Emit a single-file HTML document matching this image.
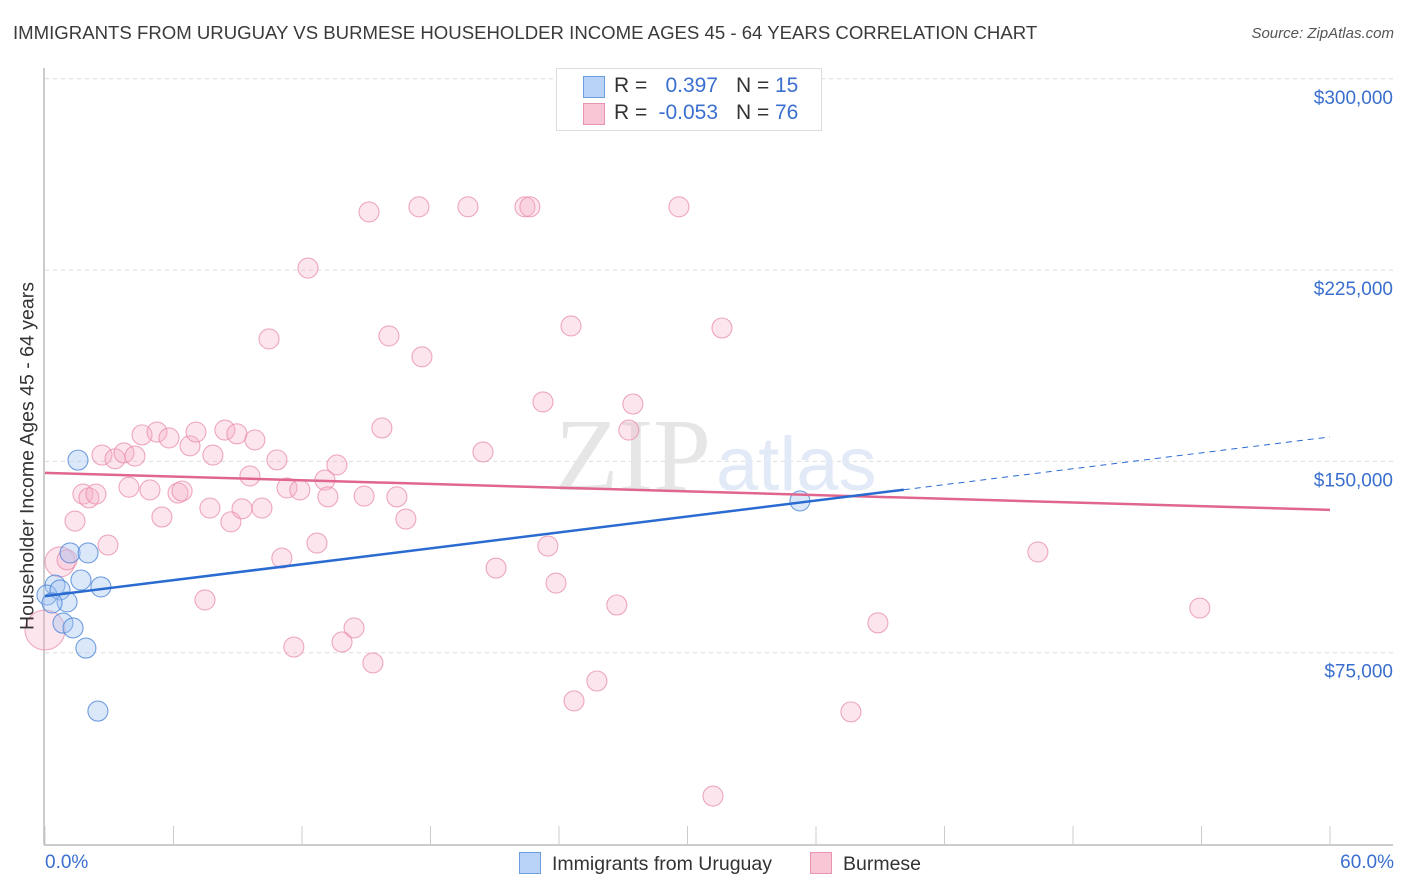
<!DOCTYPE html>
<html><head><meta charset="utf-8">
<style>
body{margin:0;background:#fff;font-family:"Liberation Sans",sans-serif;}
#wrap{position:relative;width:1406px;height:892px;overflow:hidden;}
.t{position:absolute;white-space:nowrap;}
</style></head>
<body>
<div id="wrap">
<div class="t" style="left:13px;top:22px;font-size:18.6px;color:#3a3a3a;">IMMIGRANTS FROM URUGUAY VS BURMESE HOUSEHOLDER INCOME AGES 45 - 64 YEARS CORRELATION CHART</div>
<div class="t" style="right:12px;top:25px;font-size:15px;color:#555;font-style:italic;">Source: ZipAtlas.com</div>
<svg id="chart" width="1406" height="892" style="position:absolute;left:0;top:0;"></svg>
</div>
<script>
const xTicks=[0,6,12,18,24,30,36,42,48,54,60];
const yTicks=[75,150,225,300];
const yTickLabels=["$75,000","$150,000","$225,000","$300,000"];
const blueX=[1.54,1.17,2.01,0.47,1.68,2.61,0.09,0.70,1.03,0.33,0.84,1.31,1.91,2.47,35.25];
const blueY=[150.5,114.1,114.1,101.5,103.5,100.8,97.6,99.6,94.9,94.5,86.6,84.7,76.8,52.1,134.5];
const pinkX=[0.0,0.70,1.03,1.40,2.94,1.77,2.05,2.38,2.66,3.27,3.69,4.20,3.92,4.90,4.53,5.23,5.79,5.46,6.21,6.40,6.77,7.05,7.84,7.70,7.47,8.40,8.96,9.80,8.68,9.20,10.13,9.57,10.83,10.46,11.30,11.90,11.06,11.62,12.28,12.70,13.07,13.21,13.63,13.87,14.43,14.90,15.13,15.31,15.73,16.06,16.43,16.85,17.46,17.60,19.75,20.45,21.06,22.41,22.64,23.25,23.48,23.86,24.56,24.70,25.77,26.70,27.26,27.45,29.60,31.19,31.61,37.63,38.89,46.36,53.92];
const pinkY=[83.9,110.6,111.4,126.6,117.2,137.2,135.7,137.2,152.5,151.0,153.3,152.1,139.9,138.8,160.4,161.5,159.2,128.2,137.6,138.4,156.1,161.5,152.5,131.7,95.7,162.3,160.8,158.4,126.3,131.4,131.7,144.3,150.6,198.0,139.6,138.8,112.1,77.2,225.8,118.0,142.7,136.1,148.6,79.2,84.7,136.4,247.8,71.0,163.1,199.2,136.1,127.4,249.8,191.0,249.8,153.7,108.2,249.8,249.8,173.3,116.8,102.3,203.1,56.1,63.9,93.7,162.3,172.5,249.8,18.8,202.3,51.8,86.7,114.5,92.5];
const pinkR=[20,15,10];
const blueTrend=[97.2,159.6];
const blueSolidEnd=40.1;
const pinkTrend=[145.5,131.0];
const NS="http://www.w3.org/2000/svg";
const svg=document.getElementById('chart');
const X=v=>45+v*(1330-45)/60;
const Y=v=>844-v*191.3/75;
function mk(tag,attrs){const e=document.createElementNS(NS,tag);for(const k in attrs)e.setAttribute(k,attrs[k]);svg.appendChild(e);return e;}
yTicks.forEach((t,i)=>{
 const g=mk('line',{x1:45,x2:1393,y1:Y(t),y2:Y(t),stroke:'#dcdcdc','stroke-dasharray':'4,4'});
 
 
 const tx=mk('text',{x:1393,y:Y(t)+25,'text-anchor':'end','font-size':19,fill:'#3a6fcf','font-family':'Liberation Sans,sans-serif'});
 tx.textContent=yTickLabels[i];
 
 
});
const w1=mk('text',{x:555,y:490,'font-size':104,fill:'#e6e6e6','font-family':'Liberation Serif,serif'});w1.textContent='ZIP';


const w2=mk('text',{x:716,y:490,'font-size':76,fill:'#e2eaf7','font-family':'Liberation Sans,sans-serif'});w2.textContent='atlas';


const ya=mk('line',{x1:44,x2:44,y1:68,y2:845,stroke:'#bbb','stroke-width':1.5});


const xa=mk('line',{x1:44,x2:1393,y1:845,y2:845,stroke:'#bbb','stroke-width':1.5});


xTicks.forEach(t=>{const l=mk('line',{x1:X(t),x2:X(t),y1:826,y2:845,stroke:'#ccc'});
 
 });
pinkX.forEach((v,i)=>{const c=mk('circle',{cx:X(v),cy:Y(pinkY[i]),r:pinkR[i]||10,fill:'rgba(246,175,200,0.32)',stroke:'rgba(232,140,172,0.75)','stroke-width':1.1});
 
 });
blueX.forEach((v,i)=>{const c=mk('circle',{cx:X(v),cy:Y(blueY[i]),r:10,fill:'rgba(165,198,242,0.4)',stroke:'rgba(80,135,215,0.8)','stroke-width':1.1});
 
 });
const bAt=x=>blueTrend[0]+(blueTrend[1]-blueTrend[0])*x/60;
const pl=mk('line',{x1:X(0),y1:Y(pinkTrend[0]),x2:X(60),y2:Y(pinkTrend[1]),stroke:'#e0668f','stroke-width':2.5});


const bl=mk('line',{x1:X(0),y1:Y(bAt(0)),x2:X(blueSolidEnd),y2:Y(bAt(blueSolidEnd)),stroke:'#2a6bd1','stroke-width':2.5});


const bd=mk('line',{x1:X(blueSolidEnd),y1:Y(bAt(blueSolidEnd)),x2:X(60),y2:Y(bAt(60)),stroke:'#2a6bd1','stroke-width':1,'stroke-dasharray':'6,5'});


</script>
<div class="t" style="left:28px;top:456px;font-size:19.5px;color:#333;transform:translate(-50%,-50%) rotate(-90deg);">Householder Income Ages 45 - 64 years</div>
<div class="t" style="left:45px;top:852px;font-size:19px;color:#3a6fcf;">0.0%</div>
<div class="t" style="right:12px;top:852px;font-size:19px;color:#3a6fcf;">60.0%</div>
<div style="position:absolute;left:556px;top:68px;width:264px;height:61px;border:1px solid #ddd;background:#fff;font-size:21px;">
 <div style="position:absolute;left:26px;top:7px;width:20px;height:20px;background:#b9d3f6;border:1px solid #6d9ee0;"></div>
 <div class="t" style="left:57px;top:5px;color:#333;">R =</div>
 <div class="t" style="right:103px;top:5px;color:#3a6fcf;">0.397</div>
 <div class="t" style="left:179px;top:5px;color:#333;">N =</div>
 <div class="t" style="left:218px;top:5px;color:#3a6fcf;">15</div>
 <div style="position:absolute;left:26px;top:34px;width:20px;height:20px;background:#f9c6d6;border:1px solid #e994b0;"></div>
 <div class="t" style="left:57px;top:32px;color:#333;">R =</div>
 <div class="t" style="right:103px;top:32px;color:#3a6fcf;">-0.053</div>
 <div class="t" style="left:179px;top:32px;color:#333;">N =</div>
 <div class="t" style="left:218px;top:32px;color:#3a6fcf;">76</div>
</div>
<div style="position:absolute;left:519px;top:852px;font-size:19.5px;color:#333;">
 <span style="display:inline-block;width:20px;height:20px;background:#b9d3f6;border:1px solid #6d9ee0;vertical-align:-4px;margin-right:11px;"></span>Immigrants from Uruguay</div>
<div style="position:absolute;left:810px;top:852px;font-size:19.5px;color:#333;">
 <span style="display:inline-block;width:20px;height:20px;background:#f9c6d6;border:1px solid #e994b0;vertical-align:-4px;margin-right:11px;"></span>Burmese</div>
</body></html>
